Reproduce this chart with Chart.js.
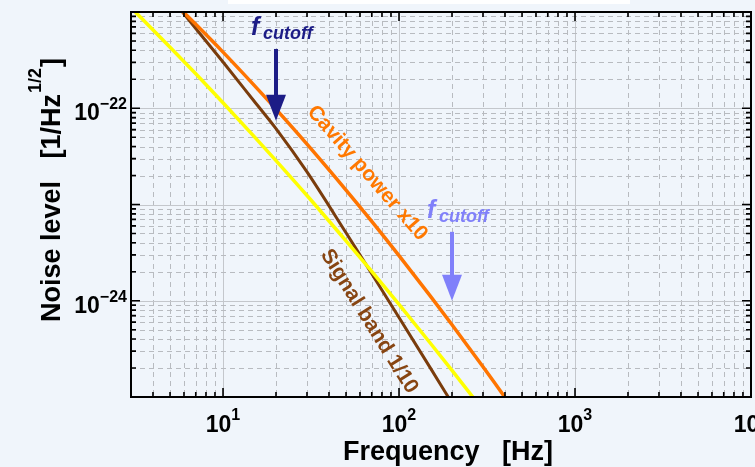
<!DOCTYPE html>
<html>
<head>
<meta charset="utf-8">
<title>Noise level vs frequency</title>
<script src="https://cdn.jsdelivr.net/npm/chart.js@4.4.1/dist/chart.umd.min.js"></script>
<style>
  html, body { margin: 0; padding: 0; background: #f0f5fb; }
  #wrap { width: 755px; height: 467px; }
</style>
</head>
<body>
<div id="wrap"><canvas id="noiseChart" width="755" height="467"></canvas></div>
<script>
// values (Hz, 1/sqrt(Hz))
const yellowFreq = [3, 5, 7, 10, 15, 20, 30, 50, 70, 100, 150, 200, 300];
const yellowNoise = [1.11e-21, 4.31e-22, 2.28e-22, 1.14e-22, 5.11e-23, 2.86e-23, 1.24e-23,
  4.18e-24, 2.02e-24, 9.15e-25, 3.66e-25, 1.89e-25, 7.31e-26];

const signalFreq = [5, 7, 10, 15, 20, 30, 50, 70, 100, 150, 200];
const signalNoise = [1.44e-21, 6.75e-22, 3.02e-22, 1.19e-22, 6.14e-23, 2.18e-23, 5.08e-24,
  1.91e-24, 6.71e-25, 2.03e-25, 8.65e-26];

const cavityFreq = [5, 7, 10, 15, 20, 30, 50, 70, 100, 150, 200, 300, 400, 500];
const cavityNoise = [1.37e-21, 7.45e-22, 3.83e-22, 1.74e-22, 9.78e-23, 4.23e-23, 1.41e-23,
  6.67e-24, 2.94e-24, 1.13e-24, 5.64e-25, 2.06e-25, 9.9e-26, 5.5e-26];

const xTickValues = [10, 100, 1000, 10000];
const xTickExps = ['1', '2', '3', '4'];
const yTickValues = [1e-22, 1e-24];
const yTickExps = ['\u221222', '\u221224'];

const cutoffMarks = [
  { freq: 20, top: 4.13e-22, tip: 7.4e-23, color: '#1c1c86' },
  { freq: 200, top: 5.2e-24, tip: 1e-24, color: '#8080fa' }
];

const curveLabels = [
  { text: 'Cavity power x10', freq: 66, noise: 2.12e-23, angle: 49, color: '#ff7800' },
  { text: 'Signal band 1/10', freq: 67.6, noise: 6.1e-25, angle: 58, color: '#874512' }
];

const FONT = "'Liberation Sans', Arial, Helvetica, sans-serif";
const bgColor = '#f0f5fb';

function series(freqs, values) {
  return freqs.map((f, i) => ({ x: f, y: values[i] }));
}

function logSteps(min, max) {
  const out = [];
  const lo = Math.floor(Math.log10(min) + 1e-9);
  const hi = Math.ceil(Math.log10(max) - 1e-9);
  for (let e = lo; e <= hi; e++) {
    const d = Math.pow(10, e);
    for (let m = 1; m < 10; m++) {
      const v = m * d;
      if (v >= min * 0.9999 && v <= max * 1.0001) out.push({ v, major: m === 1 });
    }
  }
  return out;
}

const framePlugin = {
  id: 'logFrame',
  beforeDraw(chart) {
    const ctx = chart.ctx;
    ctx.save();
    ctx.fillStyle = bgColor;
    ctx.fillRect(0, 0, chart.width, chart.height);
    ctx.fillStyle = '#ffffff';
    ctx.fillRect(228, 0, 402, 4);
    ctx.restore();
  },
  beforeDatasetsDraw(chart) {
    const { ctx, chartArea: a, scales } = chart;
    const xs = scales.x, ys = scales.y;
    ctx.save();
    ctx.lineWidth = 1;
    logSteps(xs.min, xs.max).forEach(({ v, major }) => {
      const px = Math.round(xs.getPixelForValue(v)) + 0.5;
      if (px < a.left + 2 || px > a.right - 2) return;
      ctx.strokeStyle = major ? '#c4c7cc' : '#b8bbc0';
      ctx.setLineDash(major ? [] : [5, 4]);
      ctx.beginPath(); ctx.moveTo(px, a.top); ctx.lineTo(px, a.bottom); ctx.stroke();
    });
    logSteps(ys.min, ys.max).forEach(({ v, major }) => {
      const py = Math.round(ys.getPixelForValue(v)) + 0.5;
      if (py < a.top + 2 || py > a.bottom - 2) return;
      ctx.strokeStyle = major ? '#c4c7cc' : '#b8bbc0';
      ctx.setLineDash(major ? [] : [5, 4]);
      ctx.beginPath(); ctx.moveTo(a.left, py); ctx.lineTo(a.right, py); ctx.stroke();
    });
    ctx.restore();
  },
  afterDatasetsDraw(chart) {
    const { ctx, chartArea: a, scales } = chart;
    const xs = scales.x, ys = scales.y;
    ctx.save();

    // frame and inward ticks
    ctx.strokeStyle = '#000';
    ctx.lineWidth = 1.6;
    logSteps(xs.min, xs.max).forEach(({ v, major }) => {
      const px = xs.getPixelForValue(v);
      const len = major ? 9 : 5;
      ctx.beginPath();
      ctx.moveTo(px, a.bottom); ctx.lineTo(px, a.bottom - len);
      ctx.moveTo(px, a.top); ctx.lineTo(px, a.top + len);
      ctx.stroke();
    });
    logSteps(ys.min, ys.max).forEach(({ v, major }) => {
      const py = ys.getPixelForValue(v);
      const len = major ? 9 : 5;
      ctx.beginPath();
      ctx.moveTo(a.left, py); ctx.lineTo(a.left + len, py);
      ctx.moveTo(a.right, py); ctx.lineTo(a.right - len, py);
      ctx.stroke();
    });
    ctx.lineWidth = 2;
    ctx.strokeRect(a.left, a.top, a.right - a.left, a.bottom - a.top);

    // tick labels with exponents
    ctx.fillStyle = '#000';
    ctx.textBaseline = 'alphabetic';
    ctx.textAlign = 'left';
    const baseFont = 'bold 23px ' + FONT;
    const supFont = 'bold 16px ' + FONT;
    xTickValues.forEach((v, i) => {
      const px = xs.getPixelForValue(v);
      ctx.font = baseFont;
      const bw = ctx.measureText('10').width;
      ctx.font = supFont;
      const sw = ctx.measureText(xTickExps[i]).width;
      const start = px - (bw + sw) / 2;
      ctx.font = baseFont; ctx.fillText('10', start, a.bottom + 35);
      ctx.font = supFont; ctx.fillText(xTickExps[i], start + bw, a.bottom + 23);
    });
    yTickValues.forEach((v, i) => {
      const py = ys.getPixelForValue(v);
      ctx.font = supFont;
      const sw = ctx.measureText(yTickExps[i]).width;
      ctx.font = baseFont;
      const bw = ctx.measureText('10').width;
      const right = a.left - 4;
      ctx.fillText('10', right - sw - bw, py + 12);
      ctx.font = supFont; ctx.fillText(yTickExps[i], right - sw, py + 1);
    });

    // axis titles
    ctx.font = 'bold 27px ' + FONT;
    ctx.textAlign = 'center';
    ctx.fillText('Frequency   [Hz]', 448, 460);

    ctx.textAlign = 'left';
    const titleFont = 'bold 27px ' + FONT;
    const titleSup = 'bold 18px ' + FONT;
    ctx.font = titleFont;
    const w1 = ctx.measureText('Noise level   [1/Hz').width;
    const w3 = ctx.measureText(']').width;
    ctx.font = titleSup;
    const w2 = ctx.measureText('1/2').width;
    const total = w1 + w2 + w3;
    ctx.save();
    ctx.translate(60, 191 + total / 2);
    ctx.rotate(-Math.PI / 2);
    ctx.font = titleFont; ctx.fillText('Noise level   [1/Hz', 0, 0);
    ctx.font = titleSup; ctx.fillText('1/2', w1 + 1, -19);
    ctx.font = titleFont; ctx.fillText(']', w1 + w2 + 2, 0);
    ctx.restore();

    // f_cutoff arrows
    cutoffMarks.forEach((m) => {
      const ax = xs.getPixelForValue(m.freq);
      const top = ys.getPixelForValue(m.top);
      const tip = ys.getPixelForValue(m.tip);
      const headLen = 26, headHalf = 10;
      ctx.strokeStyle = m.color;
      ctx.fillStyle = m.color;
      ctx.lineWidth = 4;
      ctx.beginPath(); ctx.moveTo(ax, top); ctx.lineTo(ax, tip - headLen + 2); ctx.stroke();
      ctx.beginPath();
      ctx.moveTo(ax - headHalf, tip - headLen);
      ctx.lineTo(ax + headHalf, tip - headLen);
      ctx.lineTo(ax, tip);
      ctx.closePath(); ctx.fill();
      ctx.font = 'italic bold 25px ' + FONT;
      ctx.fillText('f', ax - 25, top - 14);
      ctx.font = 'italic bold 18px ' + FONT;
      ctx.fillText('cutoff', ax - 13, top - 10);
    });

    // rotated curve labels
    ctx.textAlign = 'center';
    ctx.textBaseline = 'middle';
    curveLabels.forEach((l) => {
      ctx.save();
      ctx.translate(xs.getPixelForValue(l.freq), ys.getPixelForValue(l.noise));
      ctx.rotate(l.angle * Math.PI / 180);
      ctx.fillStyle = l.color;
      ctx.font = 'bold 21px ' + FONT;
      ctx.fillText(l.text, 0, 0);
      ctx.restore();
    });

    ctx.restore();
  }
};

const lineStyle = {
  fill: false,
  pointRadius: 0,
  cubicInterpolationMode: 'monotone'
};

new Chart(document.getElementById('noiseChart'), {
  type: 'line',
  data: {
    datasets: [
      { ...lineStyle, label: 'Reference', data: series(yellowFreq, yellowNoise), borderColor: '#ffff00', borderWidth: 3.5 },
      { ...lineStyle, label: 'Cavity power x10', data: series(cavityFreq, cavityNoise), borderColor: '#ff7400', borderWidth: 3.5 },
      { ...lineStyle, label: 'Signal band 1/10', data: series(signalFreq, signalNoise), borderColor: '#7a3c0c', borderWidth: 3 }
    ]
  },
  options: {
    responsive: false,
    animation: false,
    devicePixelRatio: 1,
    layout: { padding: { left: 131, top: 12, right: 4, bottom: 70 } },
    plugins: { legend: { display: false }, tooltip: { enabled: false } },
    scales: {
      x: { type: 'logarithmic', min: 3, max: 10000, display: false },
      y: { type: 'logarithmic', min: 1e-25, max: 1e-21, display: false }
    }
  },
  plugins: [framePlugin]
});
</script>
</body>
</html>
